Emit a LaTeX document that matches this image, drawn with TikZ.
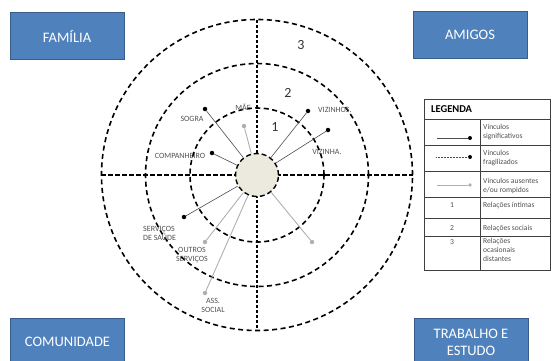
\documentclass[tikz,border=0pt]{standalone}
\usepackage{fontspec}
\setmainfont{Carlito}
\definecolor{boxblue}{RGB}{79,129,189}
\definecolor{boxedge}{RGB}{56,93,138}
\definecolor{hub}{RGB}{236,234,222}
\definecolor{lbl}{RGB}{80,80,80}
\definecolor{absent}{RGB}{175,175,175}
\begin{document}
\begin{tikzpicture}[x=1pt,y=-1pt,
  box/.style={draw=boxedge, fill=boxblue, line width=0.8pt, minimum width=114pt, minimum height=47pt, inner sep=0pt, text=white, align=center, font=\fontsize{14.5}{17}\selectfont},
  ring/.style={draw=black, line width=1.6pt, dash pattern=on 5pt off 3.5pt},
  axisv/.style={draw=black, line width=1.3pt, dash pattern=on 3pt off 2pt},
  axish/.style={draw=black, line width=1.2pt, dash pattern=on 4.5pt off 2.5pt},
  hubnode/.style={circle, fill=hub, draw=black, line width=1.4pt, dash pattern=on 5pt off 3pt, minimum size=43pt, inner sep=0pt},
  strongdot/.style={circle, fill=black, minimum size=4.5pt, inner sep=0pt},
  absentdot/.style={circle, fill=absent, minimum size=4.5pt, inner sep=0pt},
  tie/.style={draw=black!70, line width=0.6pt},
  gone/.style={draw=absent, line width=0.9pt},
  lab/.style={text=lbl, font=\fontsize{8}{9}\selectfont, inner sep=0pt, align=center},
  ringnum/.style={text=black!80, font=\fontsize{14}{16}\selectfont, inner sep=0pt},
  legtxt/.style={text=lbl, font=\fontsize{7.6}{9}\selectfont, inner sep=0pt, align=left, anchor=west},
  legnum/.style={text=lbl, font=\fontsize{7.6}{9}\selectfont, inner sep=0pt},
  grid/.style={draw=black!75, line width=0.8pt}
]
\useasboundingbox (0,0) rectangle (554,360);

% corner boxes
\node[box] (familia) at (67,36) {FAMÍLIA};
\node[box] (amigos) at (470,35) {AMIGOS};
\node[box] (comunidade) at (67.5,342) {COMUNIDADE};
\node[box] (trabalho) at (471,342) {TRABALHO E\\ESTUDO};

% rings and axes
\coordinate (o) at (257,175);
\draw[ring] (o) circle (67pt);
\draw[ring] (o) circle (111.5pt);
\draw[ring] (o) circle (155.5pt);
\coordinate (vtop) at (257,20);
\coordinate (vbot) at (257,331);
\coordinate (hl) at (101,175);
\coordinate (hr) at (413,175);
\draw[axisv] (vtop) -- (vbot);
\draw[axish] (hl) -- (hr);

% ring numbers
\node[ringnum] (n1) at (275,127) {1};
\node[ringnum] (n2) at (288,93) {2};
\node[ringnum] (n3) at (301,45) {3};

% hub
\node[hubnode] (c) at (o) {};

% dots
\node[strongdot] (sogra) at (205,109) {};
\node[absentdot] (mae) at (244,126) {};
\node[strongdot] (vizinhos) at (308,111) {};
\node[strongdot] (vizinha) at (328,130) {};
\node[strongdot] (companheiro) at (212,153) {};
\node[strongdot] (saude) at (184,217) {};
\node[absentdot] (outros) at (205,242) {};
\node[absentdot] (ass) at (205,293) {};
\node[absentdot] (semnome) at (312,242) {};

% spokes
\draw[tie] (sogra) -- (c);
\draw[tie] (vizinhos) -- (c);
\draw[tie] (vizinha) -- (c);
\draw[tie] (companheiro) -- (c);
\draw[tie] (saude) -- (c);
\draw[gone] (mae) -- (c);
\draw[gone] (outros) -- (c);
\draw[gone] (ass) -- (c);
\draw[gone] (semnome) -- (c);

% labels
\node[lab] (lsogra) at (192,119) {SOGRA};
\node[lab] (lmae) at (243,107) {MÃE};
\node[lab, anchor=west] (lvizinhos) at (318,110) {VIZINHOS.};
\node[lab] (lvizinha) at (327,152) {VIZINHA.};
\node[lab] (lcomp) at (180,156) {COMPANHEIRO};
\node[lab, align=left, anchor=north west] (lsaude) at (143,226) {SERVIÇOS\\DE SAÚDE};
\node[lab, anchor=north] (loutros) at (192,247) {OUTROS\\SERVIÇOS};
\node[lab, anchor=north] (lass) at (213,298) {ASS.\\SOCIAL};

% legend
\draw[grid] (424,99) rectangle (550,270);
\draw[grid] (424,119) -- (550,119);
\draw[grid] (424,145) -- (550,145);
\draw[grid] (424,171) -- (550,171);
\draw[grid] (424,197) -- (550,197);
\draw[grid] (424,218) -- (550,218);
\draw[grid] (424,236) -- (550,236);
\draw[grid] (480,119) -- (480,270);
\node[anchor=west, font=\bfseries\fontsize{10.5}{12}\selectfont, inner sep=0pt] (legenda) at (431,109.5) {LEGENDA};

\node[strongdot, minimum size=4pt] (k1) at (470,138) {};
\coordinate (k1s) at (437,138);
\draw[tie] (k1s) -- (k1);
\node[strongdot, minimum size=4pt] (k2) at (470,157) {};
\coordinate (k2s) at (436,157);
\draw[draw=black!70, line width=0.6pt, dash pattern=on 0.8pt off 0.7pt] (k2s) -- (k2);
\node[absentdot, minimum size=3.6pt] (k3) at (470,185) {};
\coordinate (k3s) at (437,185);
\draw[gone, line width=0.6pt] (k3s) -- (k3);

\node[legtxt] (t1) at (483,132.5) {Vínculos\\significativos};
\node[legtxt] (t2) at (483,158) {Vínculos\\fragilizados};
\node[legtxt] (t3) at (483,186) {Vínculos ausentes\\e/ou rompidos};
\node[legnum] (g1) at (452,205.5) {1};
\node[legtxt] (t4) at (483,205.5) {Relações íntimas};
\node[legnum] (g2) at (452,228) {2};
\node[legtxt] (t5) at (483,228) {Relações sociais};
\node[legnum] (g3) at (452,242.5) {3};
\node[legtxt, anchor=north west] (t6) at (483,238.5) {Relações\\ocasionais\\distantes};
\end{tikzpicture}
\end{document}
